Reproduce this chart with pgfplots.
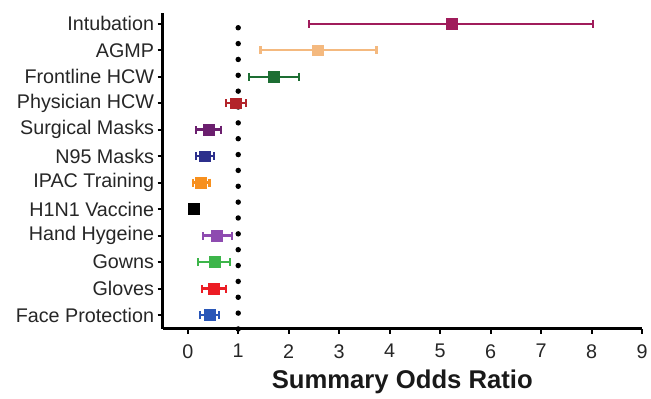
\documentclass[border=0pt]{standalone}
\usepackage{fontspec}
\setmainfont{Liberation Sans}
\usepackage{pgfplots}
\pgfplotsset{compat=1.18}
\definecolor{cInt}{HTML}{A01C5B}
\definecolor{cAGMP}{HTML}{F4B97F}
\definecolor{cFront}{HTML}{1D6E33}
\definecolor{cPhys}{HTML}{B3242A}
\definecolor{cSurg}{HTML}{6B1F6E}
\definecolor{cN95}{HTML}{2C2F8C}
\definecolor{cIPAC}{HTML}{F7901E}
\definecolor{cH1N1}{HTML}{000000}
\definecolor{cHand}{HTML}{8E4BB0}
\definecolor{cGown}{HTML}{3DB54A}
\definecolor{cGlove}{HTML}{EC1C24}
\definecolor{cFace}{HTML}{2A57B8}
\pgfplotsset{fp/.style={only marks, mark=square*, mark size=5.5bp, color=#1,
  mark options={solid, fill=#1, draw=#1},
  error bars/.cd, x dir=both, x explicit, error mark=|,
  error bar style={line width=2.4bp, #1},
  error mark options={line width=2.2bp, mark size=4bp, #1}}}
\begin{document}
\begin{tikzpicture}
\begin{axis}[
  name=ax,
  scale only axis, width=484bp, height=319bp,
  xmin=-0.5, xmax=9, ymin=0.475, ymax=12.41,
  axis x line*=bottom, axis y line*=left,
  axis line style={line width=3bp, -},
  xtick={0,...,9}, ytick={1,...,12},
  yticklabels={Face Protection, Gloves\ , Gowns, Hand Hygeine, H1N1 Vaccine, IPAC Training, N95 Masks, Surgical Masks, Physician HCW, Frontline HCW, AGMP, Intubation},
  tick align=outside, major tick length=5bp,
  tick style={line width=2bp, black},
  ticklabel style={font=\fontsize{20}{22}\selectfont, text=black!85},
  xticklabel style={yshift=-7bp},
  /pgf/number format/assume math mode=true,
  xlabel={Summary Odds Ratio},
  xlabel style={font=\fontsize{26}{28}\selectfont\bfseries, text=black!90, yshift=-5bp},
  clip=false,
]
\addplot[black, line width=5.5bp, line cap=round, dash pattern=on 0bp off 16bp] coordinates {(1,0.475) (1,12.05)};
\addplot[fp=cInt] coordinates {(5.22,12) += (2.80,0) -= (2.81,0)};
\addplot[fp=cAGMP] coordinates {(2.58,11) += (1.16,0) -= (1.14,0)};
\addplot[fp=cFront] coordinates {(1.71,10) += (0.49,0) -= (0.50,0)};
\addplot[fp=cPhys] coordinates {(0.95,9) += (0.21,0) -= (0.20,0)};
\addplot[fp=cSurg] coordinates {(0.41,8) += (0.25,0) -= (0.24,0)};
\addplot[fp=cN95] coordinates {(0.34,7) += (0.18,0) -= (0.17,0)};
\addplot[fp=cIPAC] coordinates {(0.26,6) += (0.17,0) -= (0.15,0)};
\addplot[only marks, mark=square*, mark size=5.5bp, color=cH1N1] coordinates {(0.12,5)};
\addplot[fp=cHand] coordinates {(0.58,4) += (0.29,0) -= (0.27,0)};
\addplot[fp=cGown] coordinates {(0.53,3) += (0.30,0) -= (0.32,0)};
\addplot[fp=cGlove] coordinates {(0.51,2) += (0.24,0) -= (0.23,0)};
\addplot[fp=cFace] coordinates {(0.44,1) += (0.18,0) -= (0.19,0)};
\end{axis}
\pgfresetboundingbox
\path[use as bounding box] ([shift={(-164bp,-70bp)}]ax.south west) rectangle ([shift={(9bp,13bp)}]ax.north east);
\end{tikzpicture}
\end{document}
